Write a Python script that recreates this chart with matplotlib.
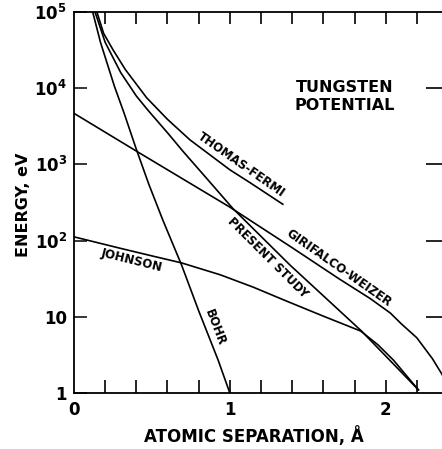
#!/usr/bin/env python3
"""Interatomic potentials for tungsten: energy vs. atomic separation (log scale)."""
import matplotlib
matplotlib.use("Agg")
import matplotlib.pyplot as plt
from matplotlib.ticker import NullLocator

plt.rcParams["font.family"] = ["DejaVu Sans"]
plt.rcParams["font.weight"] = "bold"
plt.rcParams["mathtext.fontset"] = "custom"
plt.rcParams["mathtext.rm"] = "DejaVu Sans:bold"
plt.rcParams["mathtext.it"] = "DejaVu Sans:bold"
plt.rcParams["mathtext.bf"] = "DejaVu Sans:bold"

# separation r (Angstrom) and energy (eV) for each potential
BOHR_R = [0.12, 0.17, 0.26, 0.32, 0.40, 0.48, 0.57, 0.69, 0.80, 0.925, 1.0]
BOHR_E = [1.0e5, 4.0e4, 1.05e4, 4.8e3, 1.58e3, 550, 186, 48, 12, 2.7, 1.0]

TF_R = [0.147, 0.19, 0.25, 0.33, 0.466, 0.60, 0.744, 1.0, 1.13, 1.34]
TF_E = [1.0e5, 5.25e4, 3.2e4, 1.75e4, 7.5e3, 3.9e3, 2.1e3, 850, 575, 300]

PS_R = [0.135, 0.20, 0.30, 0.40, 0.476, 0.60, 0.70, 0.85, 1.02, 1.385,
        1.845, 1.95, 2.05, 2.21]
PS_E = [1.0e5, 4.0e4, 1.6e4, 7.9e3, 5.1e3, 2.6e3, 1.48e3, 660, 263, 48,
        6.5, 3.9, 2.4, 1.1]

GW_R = [0.0, 0.42, 1.0, 1.39, 1.70, 1.90, 2.03, 2.10, 2.20, 2.30, 2.36, 2.42]
GW_E = [4677, 1413, 275, 83.2, 31.6, 17.4, 11.2, 8.1, 5.3, 2.82, 1.78, 1.0]

JOHNSON_R = [0.0, 0.30, 0.50, 0.69, 0.94, 1.15, 1.36, 1.60, 1.84, 1.95,
             2.05, 2.21]
JOHNSON_E = [112, 79, 63, 51, 35.5, 24.5, 16.2, 10.2, 6.5, 4.3, 2.7, 1.1]

Y_TICKS = [1, 10, 1e2, 1e3, 1e4, 1e5]
Y_TICK_LABELS = ["1", "10", r"$10^{2}$", r"$10^{3}$", r"$10^{4}$", r"$10^{5}$"]
X_TICKS = [0, 1, 2]
X_TICK_LABELS = ["0", "1", "2"]
X_STEPS = [0.2, 0.4, 0.6, 0.8, 1.0, 1.2, 1.4, 1.6, 1.8, 2.0, 2.2]
Y_RIGHT = [10, 1e2, 1e3, 1e4]


def main():
    fig = plt.figure(figsize=(4.42, 4.49), dpi=100)
    ax = fig.add_axes([0.1674, 0.1247, 0.8462, 0.8486])

    lw = 1.2
    for r, e in [(BOHR_R, BOHR_E), (TF_R, TF_E), (PS_R, PS_E),
                 (GW_R, GW_E), (JOHNSON_R, JOHNSON_E)]:
        ax.plot(r, e, color="black", lw=lw, solid_joinstyle="round")

    ax.set_yscale("log")
    ax.set_xlim(0, 2.4)
    ax.set_ylim(1, 1e5)

    ax.set_xticks(X_TICKS, X_TICK_LABELS)
    ax.xaxis.set_minor_locator(NullLocator())
    ax.set_yticks(Y_TICKS, Y_TICK_LABELS)
    ax.yaxis.set_minor_locator(NullLocator())
    ax.tick_params(axis="x", direction="in", length=0, pad=6, labelsize=12)
    ax.tick_params(axis="y", direction="in", length=9, width=1.1,
                   pad=5, labelsize=12)

    # inward tick rows: bottom and top every 0.2 A, long ticks on the right
    xt = ax.get_xaxis_transform()
    yt = ax.get_yaxis_transform()
    ax.vlines(X_STEPS, 0.0, 0.034, transform=xt, color="black", lw=1.2,
              zorder=5)
    ax.vlines(X_STEPS, 0.968, 1.0, transform=xt, color="black", lw=1.2,
              zorder=5)
    ax.hlines(Y_RIGHT, 0.942, 1.0, transform=yt, color="black", lw=1.2,
              zorder=5, clip_on=False)

    for sp in ax.spines.values():
        sp.set_linewidth(1.3)

    ax.text(0.481, -0.113, "ATOMIC SEPARATION, Å", transform=ax.transAxes,
            ha="center", va="center", fontsize=12, fontweight="bold")
    ax.text(-0.134, 0.495, "ENERGY, eV", transform=ax.transAxes, rotation=90,
            ha="center", va="center", fontsize=11.5, fontweight="bold")

    ax.text(1.737, 7800, "TUNGSTEN\nPOTENTIAL", ha="center", va="center",
            multialignment="center", linespacing=1.25, fontsize=11.5,
            fontweight="bold")

    label_kw = dict(ha="center", va="center", rotation_mode="anchor",
                    fontsize=8.5, fontweight="bold")
    ax.text(1.074, 980, "THOMAS-FERMI", rotation=-35, **label_kw)
    ax.text(1.70, 44, "GIRIFALCO-WEIZER", rotation=-35, **label_kw)
    ax.text(1.244, 59, "PRESENT STUDY", rotation=-45, **label_kw)
    ax.text(0.369, 55, "JOHNSON", rotation=-14, **label_kw)
    ax.text(0.904, 7.3, "BOHR", rotation=-69, **label_kw)

    fig.savefig("out.png", dpi=100)
    plt.close(fig)


if __name__ == "__main__":
    main()
